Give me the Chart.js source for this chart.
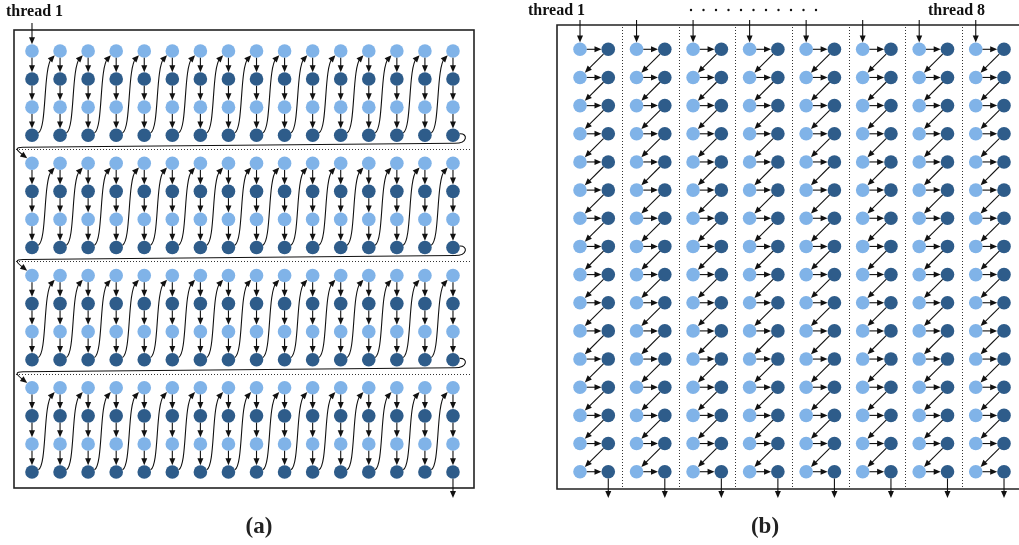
<!DOCTYPE html>
<html>
<head>
<meta charset="utf-8">
<title>Thread traversal orders</title>
<script src="https://cdn.jsdelivr.net/npm/chart.js@4/dist/chart.umd.min.js"></script>
<style>
  html, body { margin: 0; padding: 0; background: #ffffff; }
  #wrap { position: relative; width: 1019px; height: 545px; overflow: hidden; background: #ffffff; }
  #wrap canvas { position: absolute; left: 0; top: 0; }
</style>
</head>
<body>
<div id="wrap">
  <canvas id="panelA" width="1019" height="545"></canvas>
  <canvas id="panelB" width="1019" height="545"></canvas>
</div>
<script>
// ---- Panel (a): one thread walks 16 columns, in four blocks of four rows ----
const aColumns = [1, 2, 3, 4, 5, 6, 7, 8, 9, 10, 11, 12, 13, 14, 15, 16];
const aRows = [1, 2, 3, 4, 5, 6, 7, 8, 9, 10, 11, 12, 13, 14, 15, 16];
const aRowShade = ['light', 'dark', 'light', 'dark', 'light', 'dark', 'light', 'dark',
                   'light', 'dark', 'light', 'dark', 'light', 'dark', 'light', 'dark'];
const aBlockFirstRow = [1, 5, 9, 13];
const aBlockLastRow = [4, 8, 12, 16];

// ---- Panel (b): eight threads, each owning a light/dark column pair ----
const bColumns = [1, 2, 3, 4, 5, 6, 7, 8, 9, 10, 11, 12, 13, 14, 15, 16];
const bColumnShade = ['light', 'dark', 'light', 'dark', 'light', 'dark', 'light', 'dark',
                      'light', 'dark', 'light', 'dark', 'light', 'dark', 'light', 'dark'];
const bRows = [1, 2, 3, 4, 5, 6, 7, 8, 9, 10, 11, 12, 13, 14, 15, 16];
const bThreadColumns = [1, 3, 5, 7, 9, 11, 13, 15];
const bSeparators = [2.5, 4.5, 6.5, 8.5, 10.5, 12.5, 14.5];

const threadLabels = ['thread 1', 'thread 8'];
const panelLabels = ['(a)', '(b)'];

// ---- styling ----
const LIGHT = '#80b3e8';
const DARK = '#2e5c8a';
const INK = '#111111';
const FRAME = '#222222';
const R = 6.8;
const LABEL_FONT = 'bold 16px "Liberation Serif", "Times New Roman", serif';
const CAPTION_FONT = 'bold 23px "Liberation Serif", "Times New Roman", serif';

function arrowHead(ctx, tx, ty, dx, dy) {
  const len = Math.hypot(dx, dy);
  const ux = dx / len, uy = dy / len;
  const L = 7, W = 3;
  ctx.beginPath();
  ctx.moveTo(tx, ty);
  ctx.lineTo(tx - ux * L - uy * W, ty - uy * L + ux * W);
  ctx.lineTo(tx - ux * L + uy * W, ty - uy * L - ux * W);
  ctx.closePath();
  ctx.fill();
}

function straightArrow(ctx, x1, y1, x2, y2) {
  const dx = x2 - x1, dy = y2 - y1;
  const len = Math.hypot(dx, dy);
  const ux = dx / len, uy = dy / len;
  ctx.beginPath();
  ctx.moveTo(x1, y1);
  ctx.lineTo(x2 - ux * 5, y2 - uy * 5);
  ctx.stroke();
  arrowHead(ctx, x2, y2, dx, dy);
}

function dotted(ctx, x1, y1, x2, y2) {
  ctx.save();
  ctx.strokeStyle = '#333333';
  ctx.lineWidth = 1;
  ctx.setLineDash([1, 2]);
  ctx.beginPath();
  ctx.moveTo(x1, y1);
  ctx.lineTo(x2, y2);
  ctx.stroke();
  ctx.restore();
}

function gridPoints(cols, rows, test) {
  const pts = [];
  cols.forEach((c, ci) => rows.forEach((r, ri) => { if (test(ci, ri)) pts.push({ x: c, y: r }); }));
  return pts;
}

const baseOptions = (xr, yr, pad) => ({
  responsive: false,
  animation: false,
  devicePixelRatio: 1,
  events: [],
  layout: { padding: pad, autoPadding: false },
  plugins: { legend: { display: false }, tooltip: { enabled: false }, title: { display: false } },
  scales: {
    x: { type: 'linear', min: xr[0], max: xr[1], display: false },
    y: { type: 'linear', min: yr[0], max: yr[1], reverse: true, display: false }
  }
});

const nodeStyle = color => ({
  backgroundColor: color,
  borderWidth: 0,
  pointRadius: R,
  pointHoverRadius: R,
  pointBorderWidth: 0,
  showLine: false
});

// ---- panel (a) overlay: frame, block separators, traversal path ----
const pathA = {
  id: 'pathA',
  afterDatasetsDraw(chart) {
    const { ctx, chartArea: a, scales: { x, y } } = chart;
    const px = c => x.getPixelForValue(c);
    const py = r => y.getPixelForValue(r);
    const first = aColumns[0], last = aColumns[aColumns.length - 1];
    ctx.save();

    ctx.strokeStyle = FRAME;
    ctx.lineWidth = 1.6;
    ctx.strokeRect(a.left, a.top, a.right - a.left, a.bottom - a.top);

    for (let b = 0; b < aBlockLastRow.length - 1; b++) {
      const yy = Math.round(py(aBlockLastRow[b] + 0.5)) + 0.5;
      dotted(ctx, a.left + 2, yy, a.right - 2, yy);
    }

    ctx.strokeStyle = INK;
    ctx.fillStyle = INK;
    ctx.lineWidth = 1.1;

    // downward steps inside each column
    aBlockFirstRow.forEach((r0, b) => {
      const r1 = aBlockLastRow[b];
      aColumns.forEach(c => {
        for (let r = r0; r < r1; r++) {
          straightArrow(ctx, px(c), py(r) + R, px(c), py(r + 1) - R);
        }
      });
    });

    // climb from the bottom of one column to the top of the next
    aBlockFirstRow.forEach((r0, b) => {
      const r1 = aBlockLastRow[b];
      for (let i = 0; i < aColumns.length - 1; i++) {
        const xb = px(aColumns[i]), yb = py(r1);
        const xt = px(aColumns[i + 1]), yt = py(r0);
        const sx = xb + R * 0.94, sy = yb - R * 0.34;
        const c1x = xb + 15, c1y = yb - 7;
        const c2x = xb + 11, c2y = yt + 17;
        const ex = xt - R * 0.78, ey = yt + R * 0.62;
        ctx.beginPath();
        ctx.moveTo(sx, sy);
        ctx.bezierCurveTo(c1x, c1y, c2x, c2y, ex - 3, ey + 3);
        ctx.stroke();
        arrowHead(ctx, ex, ey, ex - c2x, ey - c2y);
      }
    });

    // wrap from the end of a block back to the start of the next block
    for (let b = 0; b < aBlockLastRow.length - 1; b++) {
      const xl = px(last), yb = py(aBlockLastRow[b]);
      const xf = px(first), yn = py(aBlockFirstRow[b + 1]);
      const ex = xf - R * 0.7, ey = yn - R * 0.72;
      const c2x = xf - 14, c2y = yn - 12;
      ctx.beginPath();
      ctx.moveTo(xl + R * 0.98, yb - R * 0.2);
      ctx.bezierCurveTo(xl + 15, yb - 2, xl + 15, yb + 8, xl + 2, yb + 8);
      ctx.lineTo(xf - 9, yb + 12);
      ctx.bezierCurveTo(xf - 17, yb + 12.3, xf - 17, yn - 14, ex - 3, ey - 2.4);
      ctx.stroke();
      arrowHead(ctx, ex, ey, ex - c2x, ey - c2y);
    }

    // entry and exit of the thread
    straightArrow(ctx, px(first), a.top - 7, px(first), py(aRows[0]) - R);
    straightArrow(ctx, px(last), py(aRows[aRows.length - 1]) + R, px(last), a.bottom + 10);

    ctx.textBaseline = 'alphabetic';
    ctx.font = LABEL_FONT;
    ctx.textAlign = 'left';
    ctx.fillText(threadLabels[0], 6, 16);
    ctx.font = CAPTION_FONT;
    ctx.textAlign = 'center';
    ctx.fillStyle = '#222222';
    ctx.fillText(panelLabels[0], 259, 533);
    ctx.restore();
  }
};

// ---- panel (b) overlay: frame, thread lanes, zig-zag per thread ----
const pathB = {
  id: 'pathB',
  afterDatasetsDraw(chart) {
    const { ctx, chartArea: a, scales: { x, y } } = chart;
    const px = c => x.getPixelForValue(c);
    const py = r => y.getPixelForValue(r);
    const rFirst = bRows[0], rLast = bRows[bRows.length - 1];
    ctx.save();

    ctx.strokeStyle = FRAME;
    ctx.lineWidth = 1.6;
    ctx.beginPath();
    ctx.moveTo(a.right, a.top);
    ctx.lineTo(a.left, a.top);
    ctx.lineTo(a.left, a.bottom);
    ctx.lineTo(a.right, a.bottom);
    ctx.stroke();

    bSeparators.forEach(s => {
      const xx = Math.round(px(s)) + 0.5;
      dotted(ctx, xx, a.top + 2, xx, a.bottom - 2);
    });

    ctx.strokeStyle = INK;
    ctx.fillStyle = INK;
    ctx.lineWidth = 1.1;

    bThreadColumns.forEach(c => {
      const xl = px(c), xd = px(c + 1);
      straightArrow(ctx, xl, a.top - 5, xl, py(rFirst) - R);
      bRows.forEach((r, i) => {
        const yy = py(r);
        straightArrow(ctx, xl + R, yy, xd - R, yy);
        if (i < bRows.length - 1) {
          const yn = py(bRows[i + 1]);
          const dx = xl - xd, dy = yn - yy, len = Math.hypot(dx, dy);
          const ux = dx / len, uy = dy / len;
          straightArrow(ctx, xd + ux * R, yy + uy * R, xl - ux * R, yn - uy * R);
        }
      });
      straightArrow(ctx, xd, py(rLast) + R, xd, a.bottom + 9);
    });

    // ellipsis between the first and last thread labels
    for (let k = 0; k < 11; k++) {
      ctx.beginPath();
      ctx.arc(691 + k * 12.5, 10, 1.2, 0, Math.PI * 2);
      ctx.fill();
    }

    ctx.textBaseline = 'alphabetic';
    ctx.font = LABEL_FONT;
    ctx.textAlign = 'left';
    ctx.fillText(threadLabels[0], 528, 15);
    ctx.fillText(threadLabels[1], 928, 15);
    ctx.font = CAPTION_FONT;
    ctx.textAlign = 'center';
    ctx.fillStyle = '#222222';
    ctx.fillText(panelLabels[1], 765, 533);
    ctx.restore();
  }
};

new Chart(document.getElementById('panelA'), {
  type: 'scatter',
  data: {
    datasets: [
      Object.assign({ label: 'light', data: gridPoints(aColumns, aRows, (ci, ri) => aRowShade[ri] === 'light') }, nodeStyle(LIGHT)),
      Object.assign({ label: 'dark', data: gridPoints(aColumns, aRows, (ci, ri) => aRowShade[ri] === 'dark') }, nodeStyle(DARK))
    ]
  },
  options: baseOptions([0.359, 16.749], [0.252, 16.57], { left: 14, top: 30, right: 545, bottom: 57 }),
  plugins: [pathA]
});

new Chart(document.getElementById('panelB'), {
  type: 'scatter',
  data: {
    datasets: [
      Object.assign({ label: 'light', data: gridPoints(bColumns, bRows, (ci) => bColumnShade[ci] === 'light') }, nodeStyle(LIGHT)),
      Object.assign({ label: 'dark', data: gridPoints(bColumns, bRows, (ci) => bColumnShade[ci] === 'dark') }, nodeStyle(DARK))
    ]
  },
  options: baseOptions([0.186, 16.53], [0.137, 16.614], { left: 557, top: 25, right: 0, bottom: 56 }),
  plugins: [pathB]
});
</script>
</body>
</html>
